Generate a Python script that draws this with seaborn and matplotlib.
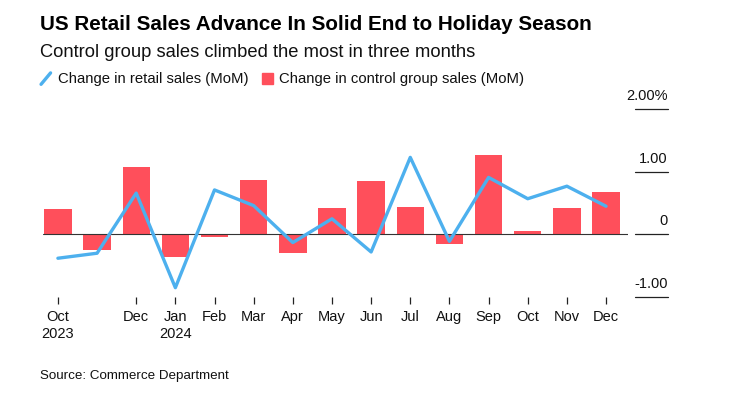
import numpy as np
import pandas as pd
import matplotlib
matplotlib.use("Agg")
import matplotlib.pyplot as plt
from matplotlib.lines import Line2D
from matplotlib.patches import Rectangle
import seaborn as sns

months = ["Oct 2023", "Nov 2023", "Dec 2023", "Jan 2024", "Feb 2024", "Mar 2024",
          "Apr 2024", "May 2024", "Jun 2024", "Jul 2024", "Aug 2024", "Sep 2024",
          "Oct 2024", "Nov 2024", "Dec 2024"]
tick_labels = ["Oct\n2023", "", "Dec", "Jan\n2024", "Feb", "Mar", "Apr", "May",
               "Jun", "Jul", "Aug", "Sep", "Oct", "Nov", "Dec"]
control_group = [0.40, -0.25, 1.07, -0.36, -0.04, 0.87, -0.30, 0.42, 0.86, 0.43,
                 -0.16, 1.27, 0.05, 0.42, 0.68]
retail_sales = [-0.38, -0.30, 0.66, -0.85, 0.71, 0.46, -0.13, 0.25, -0.28, 1.23,
                -0.11, 0.91, 0.57, 0.77, 0.45]
y_ticks = [-1.0, 0.0, 1.0, 2.0]
y_tick_labels = ["-1.00", "0", "1.00", "2.00%"]

RED = "#FF4F5B"
BLUE = "#4DB0EE"

sns.set_theme(style="white")
plt.rcParams["font.family"] = ["Liberation Sans", "DejaVu Sans"]

df = pd.DataFrame({"month": months, "control": control_group, "retail": retail_sales})
df["pos"] = np.arange(len(df))

fig = plt.figure(figsize=(7.33, 3.94), dpi=100)
ax = fig.add_axes([0.0587, 0.246, 0.798, 0.477])

sns.barplot(data=df, x="month", y="control", order=months, color=RED,
            width=0.7, saturation=1, linewidth=0, ax=ax, zorder=2)
ax.axhline(0, color="#333333", linewidth=0.8, zorder=2.5)
sns.lineplot(data=df, x="pos", y="retail", color=BLUE, linewidth=2.4, ax=ax, zorder=3)

ax.set_xlim(-0.38, len(months) - 1 + 0.56)
ax.set_ylim(-1.0, 2.0)
ax.set_xlabel("")
ax.set_ylabel("")
for s in ax.spines.values():
    s.set_visible(False)

tick_pos = [i for i, lab in enumerate(tick_labels) if lab]
ax.set_xticks(tick_pos)
ax.set_xticklabels([tick_labels[i] for i in tick_pos], fontsize=10.5, color="#111111",
                   linespacing=1.35)
ax.tick_params(axis="x", bottom=True, length=5, width=0.9, color="#222222", pad=4)
ax.set_yticks([])

# right-side value labels sitting on short rules
for v, lab in zip(y_ticks, y_tick_labels):
    ax.plot([1.012, 1.068], [v, v], transform=ax.get_yaxis_transform(),
            color="#222222", linewidth=0.9, clip_on=False)
    ax.text(1.068, v + 0.1, lab, transform=ax.get_yaxis_transform(), ha="right",
            va="bottom", fontsize=10.5, color="#111111", clip_on=False)

fig.text(0.055, 0.937, "US Retail Sales Advance In Solid End to Holiday Season",
         fontsize=14.9, fontweight="bold", color="#000000", va="center")
fig.text(0.055, 0.866, "Control group sales climbed the most in three months",
         fontsize=13.2, color="#111111", va="center")

# legend
fig.add_artist(Line2D([0.056, 0.069], [0.786, 0.815], color=BLUE, linewidth=2.4,
                      transform=fig.transFigure))
fig.text(0.079, 0.800, "Change in retail sales (MoM)", fontsize=10.7,
         color="#111111", va="center")
fig.add_artist(Rectangle((0.358, 0.788), 0.015, 0.026, color=RED,
                         transform=fig.transFigure))
fig.text(0.381, 0.800, "Change in control group sales (MoM)", fontsize=10.7,
         color="#111111", va="center")

fig.text(0.055, 0.046, "Source: Commerce Department", fontsize=9.6,
         color="#111111", va="center")

fig.savefig("out.png", dpi=100, facecolor="white")
